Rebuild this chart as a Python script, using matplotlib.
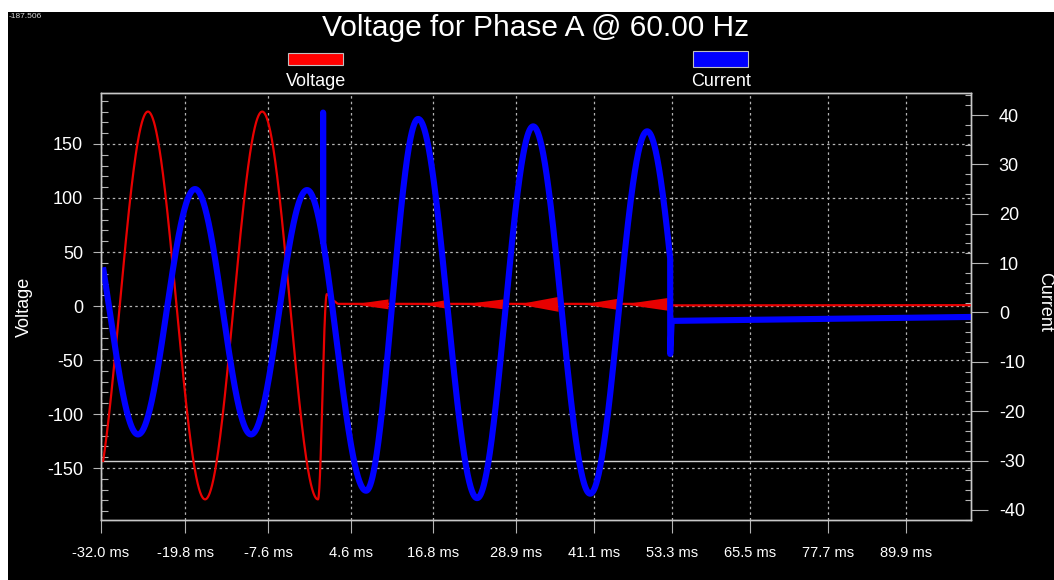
import numpy as np
import matplotlib
matplotlib.use("Agg")
import matplotlib.pyplot as plt
from matplotlib.patches import Rectangle
from matplotlib.ticker import MultipleLocator, FixedLocator

plt.rcParams['font.family'] = ['Liberation Sans', 'DejaVu Sans']
plt.rcParams['axes.unicode_minus'] = False

# time axis (ms)
tick_pos = [-32.0, -19.65, -7.44, 4.76, 16.82, 29.03, 40.50, 51.97, 63.44, 74.91, 86.38]
tick_labels = ['-32.0 ms', '-19.8 ms', '-7.6 ms', '4.6 ms', '16.8 ms', '28.9 ms',
               '41.1 ms', '53.3 ms', '65.5 ms', '77.7 ms', '89.9 ms']
t_first = -31.7
t_last = 95.9

# voltage turning points (peaks / troughs), V
volt_t = [-33.4, -25.1, -16.7, -8.3, -0.1, 1.2, 2.1, 2.9]
volt_v = [-180, 180, -179, 180, -179, 11, 5, 2]
volt_tail_t = [51.5, 51.9, 95.9]
volt_tail_v = [2.0, 0.6, 0.8]

# noise bursts on the voltage after the trip
burst_end = [10.2, 18.9, 27.1, 35.2, 43.9, 51.4]
burst_len = [5.1, 3.7, 5.9, 5.9, 5.1, 6.6]
burst_amp = [4.6, 4.2, 4.6, 6.9, 5.1, 6.0]
burst_base = 2.0

# current turning points, A
curr_t = [-34.85, -26.56, -18.18, -9.94, -1.71, 6.97, 14.62, 23.29, 31.53, 39.91, 48.29, 56.68]
curr_i = [24.8, -24.7, 25.0, -24.7, 24.8, -36.1, 39.2, -37.6, 37.7, -36.7, 36.7, -36.7]
spike_t = 0.65
spike_i = 40.5
drop_t = 51.68
drop_i = -8.4
curr_tail_t = [51.9, 95.9]
curr_tail_i = [-1.7, -0.9]


def half_cosine(ts, vs, n=300):
    """Join turning points with half-cosine arcs."""
    out_t, out_v = [], []
    for k in range(len(ts) - 1):
        s = np.linspace(0, 1, n, endpoint=False)
        out_t.append(ts[k] + (ts[k + 1] - ts[k]) * s)
        out_v.append(vs[k] + (vs[k + 1] - vs[k]) * (1 - np.cos(np.pi * s)) / 2)
    out_t.append([ts[-1]])
    out_v.append([vs[-1]])
    return np.concatenate(out_t), np.concatenate(out_v)


# voltage trace
vt, vv = half_cosine(volt_t, volt_v)
vt = np.concatenate([vt, volt_tail_t])
vv = np.concatenate([vv, volt_tail_v])
keep = vt >= t_first
vt, vv = vt[keep], vv[keep]

# current trace
ct, ci = half_cosine(curr_t, curr_i)
keep = (ct >= t_first) & (ct <= drop_t)
ct, ci = ct[keep], ci[keep]
i_at = np.interp(spike_t, ct, ci)
pre = ct < spike_t
ct = np.concatenate([ct[pre], [spike_t, spike_t, spike_t], ct[~pre]])
ci = np.concatenate([ci[pre], [i_at, spike_i, i_at], ci[~pre]])
ct = np.concatenate([ct, [drop_t], curr_tail_t])
ci = np.concatenate([ci, [drop_i], curr_tail_i])

fig = plt.figure(figsize=(10.54, 5.8), dpi=100, facecolor='white')
fig.patches.append(Rectangle((8 / 1054, 0), 1, 1 - 12 / 580, transform=fig.transFigure,
                             facecolor='black', edgecolor='none', zorder=-10))

ax = fig.add_axes([101 / 1054, 60 / 580, 870 / 1054, 427 / 580])
ax.set_facecolor('black')
ax2 = ax.twinx()

grid_col = '#b4b4b4'
frame_col = '#c8c8c8'

# grid
ax.set_xticks(tick_pos)
ax.set_xticklabels(tick_labels)
ax.yaxis.set_major_locator(FixedLocator([-150, -100, -50, 0, 50, 100, 150]))
ax.yaxis.set_minor_locator(MultipleLocator(10))
ax.grid(True, which='major', color=grid_col, linestyle=(0, (2, 2.5)), linewidth=0.9)

# cursor line at first sample
ax.axhline(vv[0], color='#d0d0d0', linewidth=1.0, zorder=1.5)

ax.plot(vt, vv, color='#e80000', linewidth=1.6, zorder=3)
for end, length, amp in zip(burst_end, burst_len, burst_amp):
    tb = np.linspace(end - length, end, 60)
    env = amp * (tb - (end - length)) / length
    ax.fill_between(tb, burst_base - env, burst_base + env, color='#e80000', linewidth=0, zorder=3)

ax2.plot(ct, ci, color='#0000ff', linewidth=4.4, solid_capstyle='butt')

ax.set_xlim(-32.0, t_last)
ax.set_ylim(-198.1, 197.2)
ax2.set_ylim(-42.03, 44.46)
ax2.yaxis.set_major_locator(FixedLocator([-40, -30, -20, -10, 0, 10, 20, 30, 40]))
ax2.yaxis.set_minor_locator(MultipleLocator(2))

for a in (ax, ax2):
    for sp in a.spines.values():
        sp.set_color(frame_col)
        sp.set_linewidth(1.0)

ax.tick_params(axis='x', which='major', direction='out', length=9.5, width=0.8,
               color=grid_col, labelcolor='white', labelsize=10.5, pad=9)
ax.tick_params(axis='y', which='major', direction='out', length=6, width=0.8,
               color=grid_col, labelcolor='white', labelsize=13, pad=7)
ax.tick_params(axis='y', which='minor', direction='in', length=5, width=0.8, color=grid_col)
ax2.tick_params(axis='y', which='major', direction='out', length=12, width=0.8,
                color=grid_col, labelcolor='white', labelsize=13, pad=8)
ax2.tick_params(axis='y', which='minor', direction='in', length=4.5, width=0.8, color=grid_col)

# title, legend, axis labels
fig.text(536 / 1054, 1 - 28 / 580, 'Voltage for Phase A @ 60.00 Hz', color='white',
         fontsize=21.5, ha='center', va='center')
fig.text(9 / 1054, 1 - 17 / 580, '-187.506', color='#d8d8d8', fontsize=6,
         ha='left', va='center')
fig.patches.append(Rectangle((288 / 1054, 1 - 65 / 580), 55 / 1054, 12 / 580,
                             transform=fig.transFigure, facecolor='#ff0000',
                             edgecolor='#c0c0c0', linewidth=0.8))
fig.patches.append(Rectangle((693 / 1054, 1 - 67 / 580), 55 / 1054, 16 / 580,
                             transform=fig.transFigure, facecolor='#0000ff',
                             edgecolor='#c0c0c0', linewidth=0.8))
fig.text(316 / 1054, 1 - 82 / 580, 'Voltage', color='white', fontsize=13,
         ha='center', va='center')
fig.text(721 / 1054, 1 - 82 / 580, 'Current', color='white', fontsize=13,
         ha='center', va='center')
fig.text(24 / 1054, 1 - 307 / 580, 'Voltage', color='white', fontsize=13,
         rotation=90, ha='center', va='center')
fig.text(1045 / 1054, 1 - 302 / 580, 'Current', color='white', fontsize=13,
         rotation=270, ha='center', va='center')

fig.savefig('out.png', dpi=100, facecolor=fig.get_facecolor())
